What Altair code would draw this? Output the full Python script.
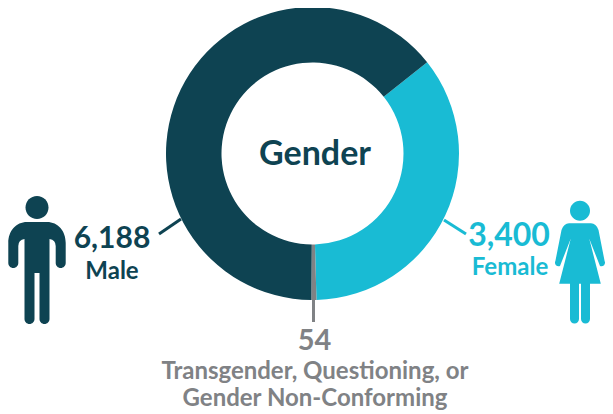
import math
import altair as alt
import pandas as pd

# Values, labels and colours
categories = ["Female", "Transgender, Questioning, or Gender Non-Conforming", "Male"]
counts = [3400, 54, 6188]
order_index = [0, 1, 2]
colors = ["#19bbd4", "#808285", "#0e4352"]
dark, cyan, gray = colors[2], colors[0], colors[1]
FONT = "Lato"

W, H = 597, 406
CX, CY = 304.5, 145.5
START = math.radians(51.5)

MALE_HEAD = "M-11.5,-52.5A11.5,11.5 0 1 1 11.5,-52.5A11.5,11.5 0 1 1 -11.5,-52.5Z"
MALE_BODY = ("M-10,-38L10,-38C21,-38 28.7,-29 28.7,-17L28.7,3A5,5 0 0 1 18.7,3L18.7,-14"
             "Q18.7,-20 12.5,-21L12.5,59A5,5 0 0 1 2.5,59L2.5,13L-2.5,13L-2.5,59"
             "A5,5 0 0 1 -12.5,59L-12.5,-21Q-18.7,-20 -18.7,-14L-18.7,3A5,5 0 0 1 -28.7,3"
             "L-28.7,-17C-28.7,-29 -21,-38 -10,-38Z")
FEMALE_HEAD = "M-10,-49.3A10,10 0 1 1 10,-49.3A10,10 0 1 1 -10,-49.3Z"
FEMALE_BODY = ("M-11,-36.7L11,-36.7Q16,-36.7 18.5,-30L24.6,1A3.6,3.6 0 0 1 20,6L9.2,-21.5"
               "L20.8,23.7L10,23.7L10,59A4.5,4.5 0 0 1 1,59L1,23.7L-1,23.7L-1,59"
               "A4.5,4.5 0 0 1 -10,59L-10,23.7L-20.8,23.7L-9.2,-21.5L-20,6A3.6,3.6 0 0 1 -24.6,1"
               "L-18.5,-30Q-16,-36.7 -11,-36.7Z")

df = pd.DataFrame({"category": categories, "count": counts, "idx": order_index})

donut = alt.Chart(df).mark_arc(outerRadius=146.5, innerRadius=91).encode(
    x=alt.value(CX), y=alt.value(CY),
    theta=alt.Theta("count:Q", stack=True,
                    scale=alt.Scale(domain=[0, sum(counts)], range=[START, START + 2 * math.pi])),
    order=alt.Order("idx:O"),
    color=alt.Color("category:N", legend=None,
                    scale=alt.Scale(domain=categories, range=colors)),
)

blank = pd.DataFrame({"a": [0]})


def label(text, x, y, size, color, weight="bold"):
    return alt.Chart(blank).mark_text(
        text=text, font=FONT, fontSize=size, fontWeight=weight, color=color,
        align="center", baseline="alphabetic",
    ).encode(x=alt.value(x - 8), y=alt.value(y - 8))


def rule(x1, y1, x2, y2, color):
    return alt.Chart(blank).mark_rule(color=color, strokeWidth=3).encode(
        x=alt.value(x1 - 8), y=alt.value(y1 - 8), x2=alt.value(x2 - 8), y2=alt.value(y2 - 8))


def icon(path, x, y, color):
    return alt.Chart(blank).mark_point(
        shape=path, size=4, filled=True, opacity=1, color=color, strokeWidth=0,
    ).encode(x=alt.value(x - 8), y=alt.value(y - 8))


chart = alt.layer(
    donut,
    rule(159, 234, 181, 219, dark),
    rule(444, 220, 466, 234, cyan),
    rule(313.5, 296, 313.5, 322, gray),
    icon(MALE_HEAD, 37, 260, dark), icon(MALE_BODY, 37, 260, dark),
    icon(FEMALE_HEAD, 580, 260, cyan), icon(FEMALE_BODY, 580, 260, cyan),
    label("Gender", 315, 165, 34, dark),
    label("6,188", 112, 248, 30, dark),
    label("Male", 112, 279, 24, dark),
    label("3,400", 509, 246, 32, cyan),
    label("Female", 510, 275, 24, cyan),
    label("54", 314.5, 350, 29, gray),
    label("Transgender, Questioning, or", 315, 379, 24, gray),
    label("Gender Non-Conforming", 315, 406, 24, gray),
).properties(width=W, height=H, padding=0, autosize=alt.AutoSizeParams(type="none")
).configure_view(stroke=None)

chart.save("out.html", embed_options={"renderer": "svg", "actions": False})
